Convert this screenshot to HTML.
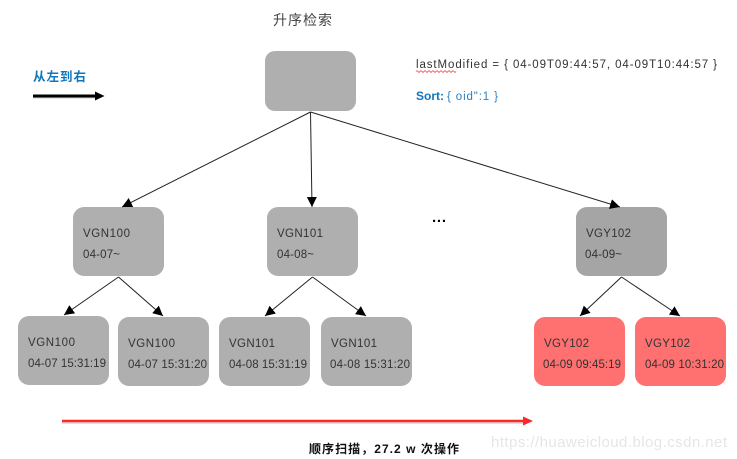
<!DOCTYPE html>
<html>
<head>
<meta charset="utf-8">
<style>
html,body{margin:0;padding:0;background:#fff;width:737px;height:459px;overflow:hidden}
svg{display:block}
text{font-family:"Liberation Sans","Noto Sans CJK SC",sans-serif;fill:#333;font-size:11.500px}
</style>
</head>
<body>
<svg width="737" height="459" viewBox="0 0 737 459" xmlns="http://www.w3.org/2000/svg">
<defs>
<marker id="a" markerUnits="userSpaceOnUse" markerWidth="11" markerHeight="10" refX="10" refY="5" orient="auto"><path d="M0 0L10 5L0 10Z" fill="#000"/></marker>
</defs>

<text x="273" y="25" style="font-size:14px;fill:#444" textLength="59">升序检索</text>

<text x="33" y="81" style="font-size:12.500px;font-weight:bold;fill:#0f75bd" textLength="53">从左到右</text>
<line x1="33" y1="97" x2="96" y2="97" stroke="#ccc" stroke-width="3"/>
<line x1="33" y1="96" x2="96" y2="96" stroke="#000" stroke-width="3"/>
<path d="M95 91.500L104.500 96L95 100.500Z" fill="#000"/>

<rect x="265" y="51" width="91" height="60" rx="10" fill="#afafaf"/>

<rect x="73" y="207" width="91" height="69" rx="11" fill="#afafaf"/>
<rect x="267" y="207" width="91" height="69" rx="11" fill="#afafaf"/>
<rect x="576" y="207" width="91" height="69" rx="11" fill="#a5a5a5"/>

<rect x="18" y="316" width="91" height="69" rx="11" fill="#afafaf"/>
<rect x="118" y="317" width="91" height="69" rx="11" fill="#afafaf"/>
<rect x="219" y="317" width="91" height="69" rx="11" fill="#afafaf"/>
<rect x="321" y="317" width="91" height="69" rx="11" fill="#afafaf"/>
<rect x="534" y="317" width="91" height="69" rx="11" fill="#ff7070"/>
<rect x="635" y="317" width="91" height="69" rx="11" fill="#ff7070"/>

<g stroke="#222" stroke-width="1" fill="none">
<line x1="310.500" y1="112" x2="122" y2="207" marker-end="url(#a)"/>
<line x1="310.500" y1="112" x2="312" y2="207" marker-end="url(#a)"/>
<line x1="310.500" y1="112" x2="620" y2="207" marker-end="url(#a)"/>
<line x1="118.500" y1="277" x2="64" y2="315" marker-end="url(#a)"/>
<line x1="118.500" y1="277" x2="163" y2="316" marker-end="url(#a)"/>
<line x1="312.500" y1="277" x2="265" y2="316" marker-end="url(#a)"/>
<line x1="312.500" y1="277" x2="366" y2="316" marker-end="url(#a)"/>
<line x1="621.500" y1="277" x2="580" y2="316" marker-end="url(#a)"/>
<line x1="621.500" y1="277" x2="680" y2="316" marker-end="url(#a)"/>
</g>

<text x="416" y="68" textLength="301">lastModified = { 04-09T09:44:57, 04-09T10:44:57 }</text>
<path d="M416 71.500q1-1.500 2 0t2 0t2 0t2 0t2 0t2 0t2 0t2 0t2 0t2 0t2 0t2 0t2 0t2 0t2 0t2 0t2 0t2 0t2 0t2 0" fill="none" stroke="#e8404a" stroke-width=".8"/>
<text x="416" y="100" textLength="28" style="font-size:12px;font-weight:bold;fill:#0f75bd">Sort:</text>
<text x="447" y="100" textLength="51" style="fill:#2a7fc0">{ oid":1 }</text>

<text x="432" y="222" textLength="14" style="font-size:15px;font-weight:bold;fill:#000">...</text>

<text x="83" y="237" textLength="47">VGN100</text>
<text x="83" y="258" textLength="37">04-07~</text>
<text x="277" y="237" textLength="46">VGN101</text>
<text x="277" y="258" textLength="37">04-08~</text>
<text x="586" y="237" textLength="45">VGY102</text>
<text x="585" y="258" textLength="37">04-09~</text>

<text x="28" y="346" textLength="47">VGN100</text>
<text x="28" y="367" textLength="78">04-07 15:31:19</text>
<text x="128" y="347" textLength="47">VGN100</text>
<text x="128" y="368" textLength="79">04-07 15:31:20</text>
<text x="229" y="347" textLength="46">VGN101</text>
<text x="229" y="368" textLength="78">04-08 15:31:19</text>
<text x="331" y="347" textLength="46">VGN101</text>
<text x="330" y="368" textLength="80">04-08 15:31:20</text>
<text x="544" y="347" textLength="45">VGY102</text>
<text x="543" y="368" textLength="78">04-09 09:45:19</text>
<text x="645" y="347" textLength="45">VGY102</text>
<text x="645" y="368" textLength="79">04-09 10:31:20</text>

<line x1="62" y1="423" x2="525" y2="423" stroke="#ddd" stroke-width="2"/>
<line x1="62" y1="421" x2="525" y2="421" stroke="#f8282c" stroke-width="2.500"/>
<path d="M523 416.500L533 421L523 425.500Z" fill="#f8282c"/>

<text x="309" y="453" textLength="150" style="font-size:12px;font-weight:bold;fill:#111">顺序扫描，27.2 w 次操作</text>

<text x="491" y="447" textLength="236" style="font-size:15px;fill:#e6e6e6">https://huaweicloud.blog.csdn.net</text>
</svg>
</body>
</html>
